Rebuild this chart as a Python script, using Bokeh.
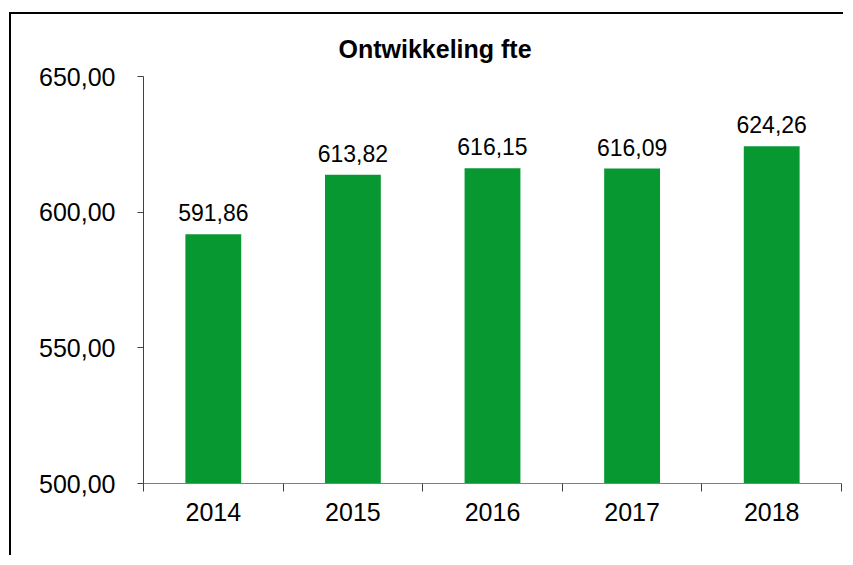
from bokeh.plotting import figure
from bokeh.models import (FixedTicker, CustomJSTickFormatter, LabelSet,
                          ColumnDataSource, Range1d)
from bokeh.core.properties import value
from bokeh.embed import file_html
from bokeh.resources import INLINE

# ---- data ----
years = ["2014", "2015", "2016", "2017", "2018"]
fte = [591.86, 613.82, 616.15, 616.09, 624.26]
y_ticks = [500, 550, 600, 650]
title_text = "Ontwikkeling fte"

x_pos = [i + 0.5 for i in range(len(years))]
labels = [f"{v:.2f}".replace(".", ",") for v in fte]
src = ColumnDataSource(dict(x=x_pos, top=fte, lab=labels))

W, H = 834, 543
p = figure(width=W, height=H, output_backend="svg", toolbar_location=None,
           x_range=Range1d(0, len(years)), y_range=Range1d(y_ticks[0], y_ticks[-1]),
           min_border_left=132, min_border_right=4, min_border_top=62,
           min_border_bottom=74, title=title_text)
p.margin = (12, 0, 0, 9)
p.styles = {"border-left": "2px solid #000000", "border-top": "2px solid #000000"}

p.title.align = "left"
p.title.offset = 195
p.title.standoff = 27
p.title.text_font = "Liberation Sans"
p.title.text_font_size = "25px"
p.title.text_font_style = "bold"
p.title.text_color = "#000000"

p.vbar(x="x", top="top", bottom=y_ticks[0], width=0.4, source=src,
       fill_color="#079832", line_color=None)

p.add_layout(LabelSet(x="x", y="top", text="lab", source=src, y_offset=13,
                      text_align="center", text_baseline="alphabetic",
                      text_font=value("Liberation Sans"), text_font_size="23px",
                      text_color="#000000"))

p.xgrid.visible = False
p.ygrid.visible = False
p.outline_line_color = None
p.background_fill_color = "white"
p.border_fill_color = "white"

# y axis
ya = p.yaxis[0]
ya.ticker = FixedTicker(ticks=y_ticks, minor_ticks=[])
ya.formatter = CustomJSTickFormatter(code="return tick.toFixed(2).replace('.', ',');")
ya.axis_line_color = "#404040"
ya.major_tick_line_color = "#404040"
ya.major_tick_out = 6
ya.major_tick_in = 0
ya.minor_tick_line_color = None
ya.major_label_standoff = 22
ya.major_label_text_font = "Liberation Sans"
ya.major_label_text_font_size = "25px"
ya.major_label_text_color = "#000000"

# x axis
xa = p.xaxis[0]
xa.ticker = FixedTicker(ticks=x_pos, minor_ticks=list(range(len(years) + 1)))
xa.major_label_overrides = {x: y for x, y in zip(x_pos, years)}
xa.axis_line_color = "#808080"
xa.major_tick_line_color = None
xa.major_tick_out = 0
xa.major_tick_in = 0
xa.minor_tick_line_color = "#404040"
xa.minor_tick_out = 8
xa.minor_tick_in = 0
xa.major_label_standoff = 11
xa.major_label_text_font = "Liberation Sans"
xa.major_label_text_font_size = "25px"
xa.major_label_text_color = "#000000"

open("out.html", "w").write(file_html(p, INLINE))
